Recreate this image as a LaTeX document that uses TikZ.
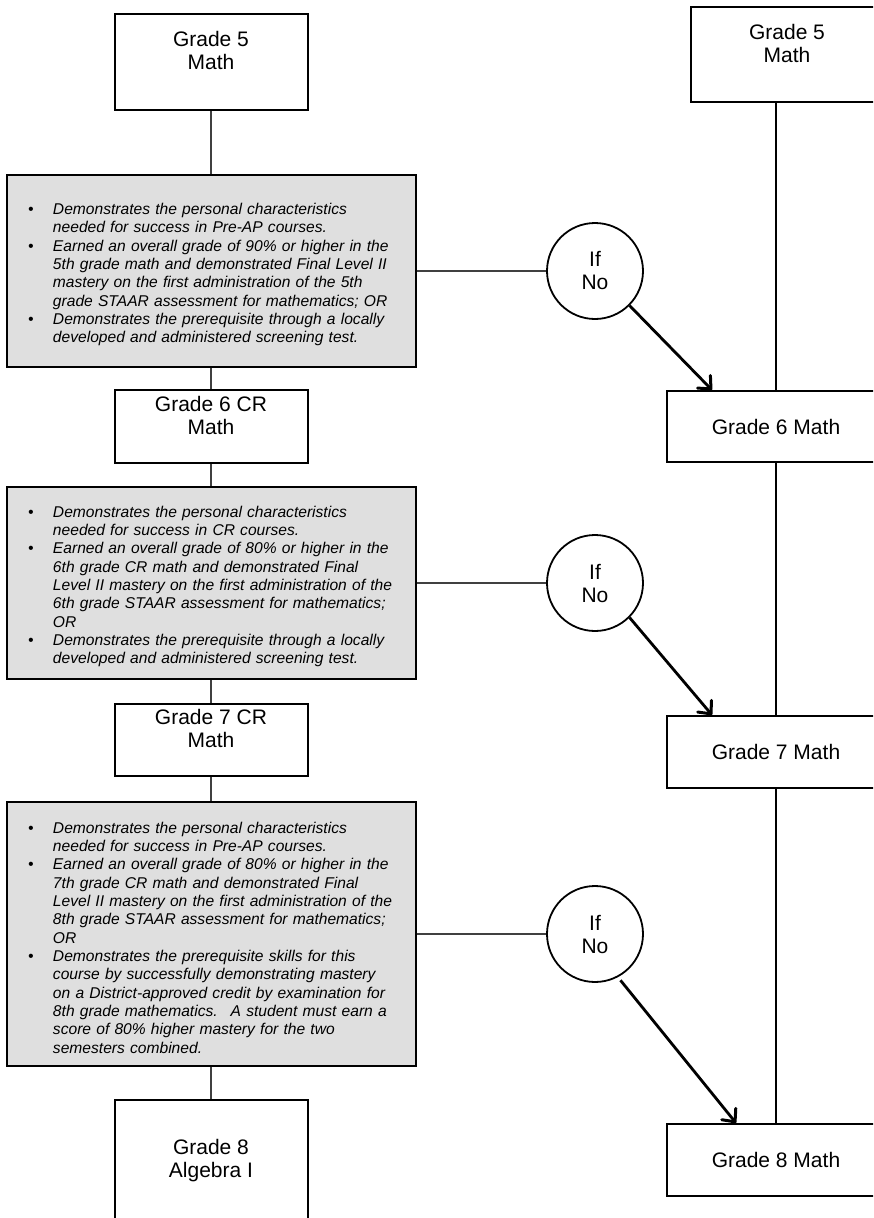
\documentclass[tikz,border=0pt]{standalone}
\usepackage{fontspec}
\setmainfont{Liberation Sans}
\usetikzlibrary{shapes.geometric, arrows.meta, calc}
\tikzstyle{boxGrade} = [rectangle, minimum width=193pt, line width=2pt, draw=black, fill=white, align=center, inner sep=0pt, font=\fontsize{21}{23}\selectfont]
\tikzstyle{boxMath} = [boxGrade, minimum width=218pt]
\tikzstyle{boxCrit} = [rectangle, minimum width=409pt, text width=380pt, inner sep=0pt, align=left, line width=2pt, draw=black, fill=gray!25, font=\fontsize{15.6}{18.35}\selectfont\itshape]
\tikzstyle{circleIf} = [circle, minimum size=96pt, inner sep=0pt, line width=1.8pt, draw=black, fill=white, align=center, font=\fontsize{21}{23}\selectfont]
\tikzstyle{link} = [line width=1.8pt, draw=black!75]
\tikzstyle{spine} = [line width=1.3pt, draw=black]
\tikzstyle{arrow} = [line width=2.8pt, ->, >={Straight Barb[length=10pt, width=18pt, line width=3pt, round]}]
\newcommand{\critItem}[1]{\par\noindent\hangindent=32pt\hangafter=1\makebox[32pt][l]{\hspace{7pt}\textbullet}#1\par}

\begin{document}
\begin{tikzpicture}[x=1pt, y=-1pt, node distance=384pt]
\useasboundingbox (0,0) rectangle (873,1218);
\clip (0,0) rectangle (873,1218);

% left column
\node (gradeFiveL) [boxGrade, minimum height=96pt, xshift=211pt, yshift=-62pt] {Grade 5\\Math\\ };

\node (critA) [boxCrit, minimum height=192pt, xshift=211pt, yshift=-271pt] {
\critItem{Demonstrates the personal characteristics\newline needed for success in Pre-AP courses.}
\critItem{Earned an overall grade of 90\% or higher in the\newline 5th grade math and demonstrated Final Level II\newline mastery on the first administration of the 5th\newline grade STAAR assessment for mathematics; OR}
\critItem{Demonstrates the prerequisite through a locally\newline developed and administered screening test.}
};

\node (gradeSixCR) [boxGrade, minimum height=73pt, xshift=211pt, yshift=-426.5pt] {Grade 6 CR\\Math\\ };

\node (critB) [boxCrit, minimum height=192pt, xshift=211pt, yshift=-583pt] {
\critItem{Demonstrates the personal characteristics\newline needed for success in CR courses.}
\critItem{Earned an overall grade of 80\% or higher in the\newline 6th grade CR math and demonstrated Final\newline Level II mastery on the first administration of the\newline 6th grade STAAR assessment for mathematics;\newline OR}
\critItem{Demonstrates the prerequisite through a locally\newline developed and administered screening test.}
};

\node (gradeSevenCR) [boxGrade, minimum height=72pt, xshift=211pt, yshift=-740pt] {Grade 7 CR\\Math\\ };

\node (critC) [boxCrit, minimum height=264pt, xshift=211pt, yshift=-934pt] {
\critItem{Demonstrates the personal characteristics\newline needed for success in Pre-AP courses.}
\critItem{Earned an overall grade of 80\% or higher in the\newline 7th grade CR math and demonstrated Final\newline Level II mastery on the first administration of the\newline 8th grade STAAR assessment for mathematics;\newline OR}
\critItem{Demonstrates the prerequisite skills for this\newline course by successfully demonstrating mastery\newline on a District-approved credit by examination for\newline 8th grade mathematics.~ A student must earn a\newline score of 80\% higher mastery for the two\newline semesters combined.}
};

\node (gradeEightAlg) [boxGrade, minimum height=121pt, xshift=211pt, yshift=-1160.5pt] {Grade 8\\Algebra I};

% if no circles
\node (ifNoA) [circleIf, right of=critA] {If\\No};
\node (ifNoB) [circleIf, right of=critB] {If\\No};
\node (ifNoC) [circleIf, right of=critC] {If\\No};

% right column
\node (gradeFiveR) [boxGrade, minimum width=192pt, minimum height=95pt, xshift=787pt, yshift=-54.5pt] {Grade 5\\Math\\ };
\node (gradeSixM) [boxMath, minimum height=71pt, xshift=776pt, yshift=-426.5pt] {Grade 6 Math};
\node (gradeSevenM) [boxMath, minimum height=72pt, xshift=776pt, yshift=-752pt] {Grade 7 Math};
\node (gradeEightM) [boxMath, minimum height=72pt, xshift=776pt, yshift=-1160pt] {Grade 8 Math};

\draw[link] (gradeFiveL.south) -- (critA.north);
\draw[link] (critA.south) -- (gradeSixCR.north);
\draw[link] (gradeSixCR.south) -- (critB.north);
\draw[link] (critB.south) -- (gradeSevenCR.north);
\draw[link] (gradeSevenCR.south) -- (critC.north);
\draw[link] (critC.south) -- (gradeEightAlg.north);

\draw[link] (critA.east) -- (ifNoA.west);
\draw[link] (critB.east) -- (ifNoB.west);
\draw[link] (critC.east) -- (ifNoC.west);

\draw[spine] (gradeFiveR.south -| gradeSixM.north) -- (gradeSixM.north);
\draw[spine] (gradeSixM.south) -- (gradeSevenM.north);
\draw[spine] (gradeSevenM.south) -- (gradeEightM.north);

\draw[arrow] (ifNoA.south east) -- ($(gradeSixM.north west)+(46pt,0pt)$);
\draw[arrow] (ifNoB.south east) -- ($(gradeSevenM.north west)+(46pt,0pt)$);
\draw[arrow, shorten <=4pt] (ifNoC.-62) -- ($(gradeEightM.north west)+(70pt,0pt)$);

\end{tikzpicture}
\end{document}
